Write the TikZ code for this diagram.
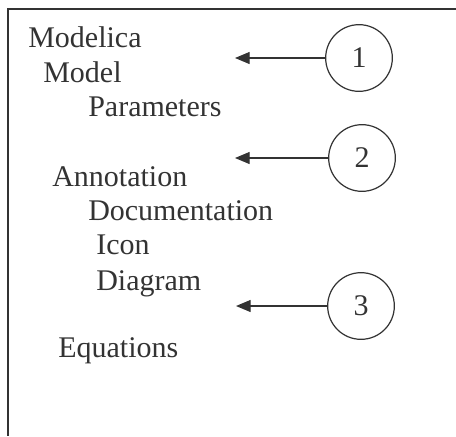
\documentclass[tikz,border=0pt]{standalone}
\usepackage{fontspec}
\setmainfont{Liberation Serif}
\usetikzlibrary{arrows.meta}

\begin{document}
\begin{tikzpicture}[x=0.75pt,y=0.75pt,yscale=-1,xscale=1,
  every node/.style={text=black!80},
  item/.style={anchor=base west,inner sep=0pt,font=\fontsize{22.5}{27}\selectfont},
  num/.style={draw=black!80,line width=0.9pt,circle,minimum size=50pt,inner sep=0pt,font=\fontsize{22.5}{27}\selectfont},
  ptr/.style={draw=black!80,line width=0.9pt,-{Triangle[length=11pt,width=9pt]}}]
\useasboundingbox (0,0) rectangle (456,436);
%frame, only top and left
\draw [black!80,line width=1.5pt] (456,9) -- (8,9) -- (8,436);

\node [item] (modelica) at (28,47) {Modelica};
\node [item] (model) at (43,82) {Model};
\node [item] (params) at (88,116) {Parameters};
\node [item] (annot) at (52,186) {Annotation};
\node [item] (doc) at (88,220) {Documentation};
\node [item] (icon) at (96,254) {Icon};
\node [item] (diagram) at (96,290) {Diagram};
\node [item] (eqs) at (58,357) {Equations};

\node [num] (c1) at (359,58) {1};
\node [num] (c2) at (362,158) {2};
\node [num] (c3) at (361,306) {3};
\coordinate (t1) at (235,58);
\coordinate (t2) at (235,158);
\coordinate (t3) at (236,306);

\draw [ptr] (c1) -- (t1);
\draw [ptr] (c2) -- (t2);
\draw [ptr] (c3) -- (t3);
\end{tikzpicture}
\end{document}
